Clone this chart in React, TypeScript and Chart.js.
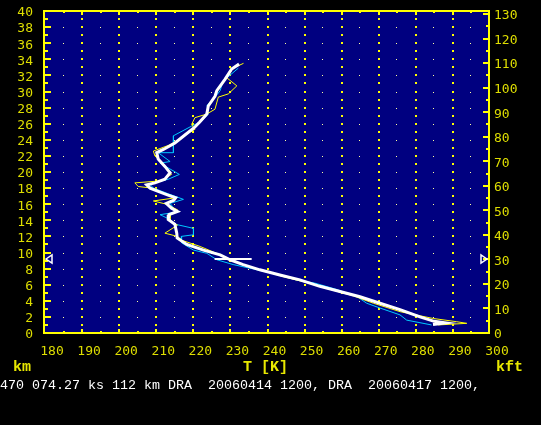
import React, { useEffect, useRef } from 'react';
import { Chart, registerables } from 'chart.js';
Chart.register(...registerables);

// Mean profile (white)
const meanKm = [33.4, 32.8, 31.5, 30.1, 29.4, 28.2, 27.2, 26.2, 25.5, 24.6, 23.6, 22.8, 22.4, 21.6, 20.7, 19.9, 19.1, 18.65, 18.4, 18.0, 17.6, 17.2, 16.8, 16.5, 16.1, 15.5, 15.1, 14.7, 14.1, 13.5, 12.4, 11.8, 11.0, 10.3, 9.7, 9.1, 8.5, 7.85, 7.2, 6.6, 5.8, 5.15, 4.5, 3.7, 2.9, 2.0, 1.45, 1.25, 1.05];
const meanT = [232.6, 230.6, 228.8, 226.6, 226.1, 224.3, 223.9, 222.0, 220.5, 218.0, 215.3, 212.2, 210.4, 210.8, 212.6, 214.0, 212.6, 209.9, 207.7, 208.6, 210.8, 213.1, 215.5, 215.0, 213.0, 214.4, 216.0, 213.7, 213.5, 215.3, 215.8, 215.9, 218.5, 223.0, 227.5, 230.2, 233.7, 238.2, 243.6, 249.0, 254.4, 259.8, 265.2, 270.6, 276.0, 281.4, 285.2, 288.3, 284.9];

// Sounding 1 (yellow)
const yellowKm = [33.5, 32.9, 31.7, 30.7, 29.7, 29.3, 27.8, 27.2, 26.75, 25.9, 25.3, 24.7, 24.0, 23.3, 22.6, 22.0, 21.0, 19.7, 18.9, 18.65, 18.2, 18.0, 17.4, 16.8, 16.4, 16.0, 15.3, 14.6, 13.9, 13.4, 12.4, 12.0, 11.5, 10.75, 10.0, 9.3, 8.6, 7.9, 7.0, 6.3, 5.5, 4.6, 3.7, 2.65, 1.8, 1.4, 1.2, 1.0];
const yellowT = [233.8, 231.0, 229.3, 232.0, 229.7, 227.0, 226.1, 223.9, 220.7, 219.8, 220.7, 218.5, 216.5, 213.5, 209.5, 209.9, 212.0, 214.4, 211.5, 204.5, 205.4, 209.0, 212.0, 215.5, 209.5, 213.0, 216.0, 214.0, 214.0, 216.0, 212.6, 216.0, 217.3, 222.1, 226.0, 229.5, 233.0, 238.0, 244.5, 250.5, 256.5, 263.5, 268.8, 276.0, 285.0, 291.3, 294.0, 286.3];

// Sounding 2 (cyan)
const cyanKm = [32.9, 31.3, 30.1, 29.4, 28.3, 27.2, 26.3, 25.7, 24.5, 22.4, 22.4, 21.3, 21.1, 19.7, 19.1, 18.5, 18.0, 17.3, 16.6, 16.1, 15.5, 15.0, 14.7, 14.2, 13.5, 13.0, 12.2, 12.0, 11.2, 10.3, 9.9, 9.1, 8.5, 7.9, 7.3, 6.6, 6.2, 5.4, 4.5, 3.7, 3.1, 2.25, 1.6, 1.0];
const cyanT = [232.4, 228.3, 227.5, 226.3, 224.0, 224.3, 222.5, 219.8, 214.9, 214.9, 210.8, 214.0, 211.3, 216.5, 213.5, 208.5, 209.5, 213.5, 217.6, 214.0, 215.0, 215.5, 211.3, 213.5, 215.5, 220.3, 220.3, 217.0, 217.1, 220.3, 223.9, 226.6, 231.0, 237.0, 242.5, 248.0, 253.0, 259.0, 264.5, 267.0, 270.6, 276.0, 277.8, 284.5];

// Tropopause marker
const tropoKm = [9.2, 9.2];
const tropoT = [226, 236];

const xMin = 180, xMax = 300, xStep = 10;
const kmMin = 0, kmMax = 40, kmStep = 2;
const kftStep = 10;
const KM_PER_KFT = 0.3048;

const leftUnit = 'km';
const xTitle = 'T [K]';
const rightUnit = 'kft';
const infoLine = '470 074.27 ks 112 km DRA  20060414 1200, DRA  20060417 1200,';

const TICK_COLOR = '#dede00';
const FRAME = '#ffff00';
const NAVY = '#000080';

const pts = (t: number[], k: number[]) => t.map((v, i) => ({ x: v, y: k[i] }));

const decor = {
  id: 'decor',
  beforeDraw(chart: any) {
    const { ctx, chartArea: a, scales } = chart;
    const xs = scales.x, ys = scales.y;
    ctx.save();
    ctx.fillStyle = '#000';
    ctx.fillRect(0, 0, chart.width, chart.height);
    ctx.fillStyle = NAVY;
    ctx.fillRect(a.left, a.top, a.right - a.left, a.bottom - a.top);
    // dotted grid
    for (let t = xMin + 5; t < xMax; t += 5) {
      const x = Math.round(xs.getPixelForValue(t));
      const major = t % 10 === 0;
      if (major) {
        ctx.fillStyle = '#ffff00';
        for (let k = 1; k < kmMax; k += 1) {
          const y = Math.round(ys.getPixelForValue(k));
          ctx.fillRect(x, y - 1, 2, 2);
        }
      } else {
        ctx.fillStyle = '#ffffa0';
        for (let k = 2; k < kmMax; k += 2) {
          const y = Math.round(ys.getPixelForValue(k));
          ctx.fillRect(x, y, 1, 1);
        }
      }
    }
    ctx.restore();
  },
  afterDraw(chart: any) {
    const { ctx, chartArea: a, scales } = chart;
    const xs = scales.x, ys = scales.y, y2 = scales.y2;
    ctx.save();
    ctx.fillStyle = FRAME;
    // tick marks
    for (let t = xMin + 5; t < xMax; t += 5) {
      const x = Math.round(xs.getPixelForValue(t));
      const len = t % 10 === 0 ? 4 : 2;
      ctx.fillRect(x, a.top, 2, len);
      ctx.fillRect(x, a.bottom - len, 2, len);
    }
    for (let k = 1; k < kmMax; k += 1) {
      const y = Math.round(ys.getPixelForValue(k));
      const len = k % 2 === 0 ? 7 : 4;
      ctx.fillRect(a.left, y - 1, len, 2);
    }
    for (let f = 5; f * KM_PER_KFT < kmMax; f += 5) {
      const y = Math.round(y2.getPixelForValue(f));
      const len = f % 10 === 0 ? 6 : 3;
      ctx.fillRect(a.right - len, y - 1, len, 2);
    }
    // frame
    ctx.strokeStyle = FRAME;
    ctx.lineWidth = 2;
    ctx.strokeRect(a.left, a.top, a.right - a.left, a.bottom - a.top);
    // tropopause markers
    const ty = Math.round(ys.getPixelForValue(tropoKm[0]));
    ctx.strokeStyle = '#ffffff';
    ctx.lineWidth = 1.5;
    ctx.beginPath();
    ctx.moveTo(a.left + 2, ty);
    ctx.lineTo(a.left + 8, ty - 4);
    ctx.lineTo(a.left + 8, ty + 4);
    ctx.closePath();
    ctx.stroke();
    ctx.beginPath();
    ctx.moveTo(a.right - 2, ty);
    ctx.lineTo(a.right - 8, ty - 4);
    ctx.lineTo(a.right - 8, ty + 4);
    ctx.closePath();
    ctx.stroke();
    // texts
    ctx.fillStyle = '#e8e800';
    ctx.font = 'bold 15px "Liberation Mono", monospace';
    ctx.textBaseline = 'alphabetic';
    ctx.textAlign = 'left';
    ctx.fillText(leftUnit, 13, 371);
    ctx.fillText(xTitle, 243, 371);
    ctx.fillText(rightUnit, 496, 371);
    ctx.fillStyle = '#ffffff';
    ctx.font = '13.33px "Liberation Mono", monospace';
    ctx.fillText(infoLine, 0, 389);
    ctx.restore();
  },
};

export default function App() {
  const ref = useRef<HTMLCanvasElement | null>(null);
  useEffect(() => {
    if (!ref.current) return;
    const tickFont = { family: '"DejaVu Sans Mono", monospace', size: 13 };
    const chart = new Chart(ref.current, {
      type: 'scatter',
      data: {
        datasets: [
          { data: pts(tropoT, tropoKm), borderColor: '#ffffff', borderWidth: 2, showLine: true, pointRadius: 0 },
          { data: pts(meanT, meanKm), borderColor: '#ffffff', borderWidth: 3, showLine: true, pointRadius: 0 },
          { data: pts(yellowT, yellowKm), borderColor: '#ffff00', borderWidth: 1, showLine: true, pointRadius: 0 },
          { data: pts(cyanT, cyanKm), borderColor: '#00c8ff', borderWidth: 1, showLine: true, pointRadius: 0 },
        ],
      },
      options: {
        responsive: false,
        animation: false,
        devicePixelRatio: 1,
        layout: { padding: { top: 11, left: 0, right: 0, bottom: 0 } },
        plugins: { legend: { display: false }, tooltip: { enabled: false } },
        scales: {
          x: {
            type: 'linear', position: 'bottom', min: xMin, max: xMax,
            grid: { display: false, drawTicks: false }, border: { display: false },
            ticks: { stepSize: xStep, color: TICK_COLOR, font: tickFont, labelOffset: 8, padding: 11, maxRotation: 0, autoSkip: false },
            afterFit: (s: any) => { s.height = 92; s.paddingLeft = 0; s.paddingRight = 0; },
          },
          y: {
            type: 'linear', position: 'left', min: kmMin, max: kmMax,
            grid: { display: false, drawTicks: false }, border: { display: false },
            ticks: { stepSize: kmStep, color: TICK_COLOR, font: tickFont, padding: 11, labelOffset: 2, autoSkip: false },
            afterFit: (s: any) => { s.width = 44; s.paddingTop = 0; s.paddingBottom = 0; },
          },
          y2: {
            type: 'linear', position: 'right', min: 0, max: kmMax / KM_PER_KFT,
            grid: { display: false, drawTicks: false }, border: { display: false },
            ticks: { stepSize: kftStep, color: TICK_COLOR, font: tickFont, padding: 5, labelOffset: 2, autoSkip: false, includeBounds: false },
            afterFit: (s: any) => { s.width = 52; s.paddingTop = 0; s.paddingBottom = 0; },
          },
        },
      } as any,
      plugins: [decor],
    });
    return () => chart.destroy();
  }, []);
  return (
    <div style={{ position: 'absolute', left: 0, top: 0, width: 541, height: 425, background: '#000' }}>
      <canvas ref={ref} width={541} height={425} style={{ display: 'block' }} />
    </div>
  );
}
